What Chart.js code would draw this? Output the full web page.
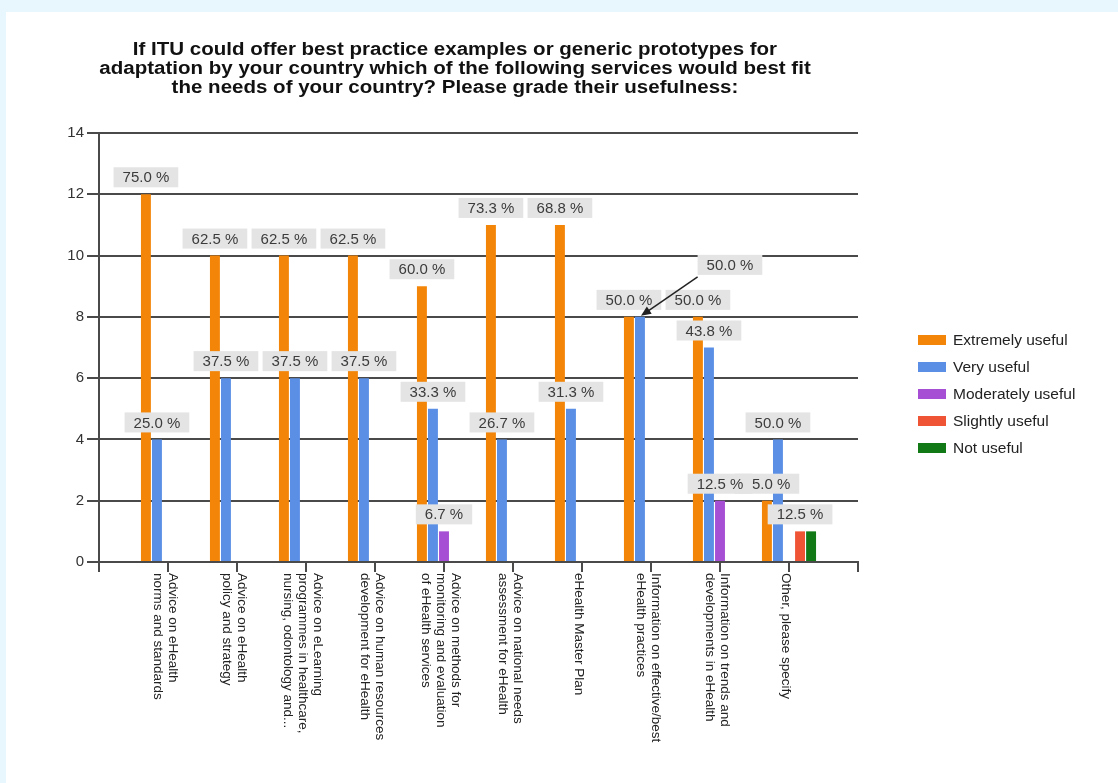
<!DOCTYPE html>
<html>
<head>
<meta charset="utf-8">
<script src="https://cdn.jsdelivr.net/npm/chart.js@4.4.0/dist/chart.umd.min.js"></script>
<style>
  body { margin: 0; background: #e8f6fd; font-family: "Liberation Sans", Arial, sans-serif; }
  #panel { position: absolute; left: 6px; top: 12px; width: 1112px; height: 771px; background: #fff; }
  #chart { position: absolute; left: 0; top: 0; }
  #title { position: absolute; left: 49px; top: 28px; width: 800px; text-align: center;
           font-weight: bold; font-size: 18px; line-height: 19px; color: #111;
           transform: scaleX(1.14); transform-origin: 400px 0; }
</style>
</head>
<body>
<div id="panel">
  <canvas id="chart" width="1112" height="771"></canvas>
  <div id="title">If ITU could offer best practice examples or generic prototypes for<br>adaptation by your country which of the following services would best fit<br>the needs of your country? Please grade their usefulness:</div>
</div>
<script>
// Categories (one entry per line of the label)
const categories = [
    ['Advice on eHealth', 'norms and standards'],
    ['Advice on eHealth', 'policy and strategy'],
    ['Advice on eLearning', 'programmes in healthcare,', 'nursing, odontology and...'],
    ['Advice on human resources', 'development for eHealth'],
    ['Advice on methods for', 'monitoring and evaluation', 'of eHealth services'],
    ['Advice on national needs', 'assessment for eHealth'],
    ['eHealth Master Plan'],
    ['Information on effective/best', 'eHealth practices'],
    ['Information on trends and', 'developments in eHealth'],
    ['Other, please specify']
];

const seriesNames = ['Extremely useful', 'Very useful', 'Moderately useful', 'Slightly useful', 'Not useful'];
const seriesColors = ['#f38609', '#5b8fe6', '#a64fd4', '#ef5435', '#117a17'];

// Counts
const extremelyUseful  = [12, 10, 10, 10, 9, 11, 11, 8, 8, 2];
const veryUseful       = [4, 6, 6, 6, 5, 4, 5, 8, 7, 4];
const moderatelyUseful = [null, null, null, null, 1, null, null, null, 2, null];
const slightlyUseful   = [null, null, null, null, null, null, null, null, null, 1];
const notUseful        = [null, null, null, null, null, null, null, null, null, 1];

// Percent labels shown above bars
const extremelyPct  = ['75.0 %', '62.5 %', '62.5 %', '62.5 %', '60.0 %', '73.3 %', '68.8 %', '50.0 %', '50.0 %', '25.0 %'];
const veryPct       = ['25.0 %', '37.5 %', '37.5 %', '37.5 %', '33.3 %', '26.7 %', '31.3 %', '50.0 %', '43.8 %', '50.0 %'];
const moderatelyPct = [null, null, null, null, '6.7 %', null, null, null, '12.5 %', null];
const slightlyPct   = [null, null, null, null, null, null, null, null, null, '12.5 %'];
const notPct        = [null, null, null, null, null, null, null, null, null, null];

const yMin = 0, yMax = 14, yStep = 2;

// label moved away from its bar, with an arrow back to it (dataset:category)
const callouts = { '1:7': { dx: 90, dy: -35 } };

// empty slot on each side so the first/last category sit one step in from the axis ends
const pad = arr => [null, ...arr, null];
const labels = ['', ...categories, ''];

const seriesData = [extremelyUseful, veryUseful, moderatelyUseful, slightlyUseful, notUseful];
const seriesPct = [extremelyPct, veryPct, moderatelyPct, slightlyPct, notPct];

const FONT = '"Liberation Sans", Arial, sans-serif';
const lineColor = '#4a4a4a';

// Percent boxes above the bars
const barLabels = {
    id: 'barLabels',
    afterDatasetsDraw(chart) {
        const ctx = chart.ctx;
        ctx.save();
        ctx.font = '15px ' + FONT;
        ctx.textAlign = 'center';
        ctx.textBaseline = 'middle';
        chart.data.datasets.forEach((ds, di) => {
            const meta = chart.getDatasetMeta(di);
            meta.data.forEach((bar, i) => {
                const text = ds.pctLabels[i];
                if (!text) return;
                const w = ctx.measureText(text).width + 18;
                const h = 20;
                let cx = bar.x;
                let cy = bar.y - 7 - h / 2;
                const co = callouts[di + ':' + (i - 1)];
                if (co) {
                    cx += co.dx;
                    cy += co.dy;
                    const sx = cx - w / 2, sy = cy + h / 2 + 2;
                    const ex = bar.x + 1, ey = bar.y - 1;
                    const ang = Math.atan2(ey - sy, ex - sx);
                    ctx.strokeStyle = '#222';
                    ctx.fillStyle = '#222';
                    ctx.lineWidth = 1.5;
                    ctx.beginPath();
                    ctx.moveTo(sx, sy);
                    ctx.lineTo(ex - 8 * Math.cos(ang), ey - 8 * Math.sin(ang));
                    ctx.stroke();
                    ctx.beginPath();
                    ctx.moveTo(ex, ey);
                    ctx.lineTo(ex - 11 * Math.cos(ang - 0.4), ey - 11 * Math.sin(ang - 0.4));
                    ctx.lineTo(ex - 11 * Math.cos(ang + 0.4), ey - 11 * Math.sin(ang + 0.4));
                    ctx.closePath();
                    ctx.fill();
                }
                ctx.fillStyle = '#e4e4e4';
                ctx.fillRect(cx - w / 2, cy - h / 2, w, h);
                ctx.fillStyle = '#3c3c3c';
                ctx.fillText(text, cx, cy + 1);
            });
        });
        ctx.restore();
    }
};

// Category labels turned clockwise under each tick
const xLabels = {
    id: 'xLabels',
    afterDraw(chart) {
        const ctx = chart.ctx;
        const xs = chart.scales.x;
        ctx.save();
        ctx.font = '13.5px ' + FONT;
        ctx.fillStyle = '#222';
        ctx.textAlign = 'left';
        ctx.textBaseline = 'middle';
        chart.data.labels.forEach((lines, i) => {
            if (!lines) return;
            const px = xs.getPixelForTick(i);
            ctx.save();
            ctx.translate(px, chart.chartArea.bottom + 11);
            ctx.rotate(Math.PI / 2);
            lines.forEach((line, k) => {
                ctx.fillText(line, 0, (k - (lines.length - 1) / 2) * 15 + 3);
            });
            ctx.restore();
        });
        ctx.restore();
    }
};

// Legend to the right of the plot
const sideLegend = {
    id: 'sideLegend',
    afterDraw(chart) {
        const ctx = chart.ctx;
        const area = chart.chartArea;
        const left = area.right + 60;
        const top = area.top + 207;
        ctx.save();
        ctx.font = '15.5px ' + FONT;
        ctx.textAlign = 'left';
        ctx.textBaseline = 'middle';
        chart.data.datasets.forEach((ds, i) => {
            const y = top + i * 27;
            ctx.fillStyle = ds.backgroundColor;
            ctx.fillRect(left, y - 5, 28, 10);
            ctx.fillStyle = '#222';
            ctx.fillText(ds.label, left + 35, y + 1);
        });
        ctx.restore();
    }
};

new Chart(document.getElementById('chart').getContext('2d'), {
    type: 'bar',
    data: {
        labels: labels,
        datasets: seriesNames.map((name, i) => ({
            label: name,
            data: pad(seriesData[i]),
            pctLabels: pad(seriesPct[i]),
            backgroundColor: seriesColors[i],
            borderWidth: 0,
            categoryPercentage: 0.8,
            barPercentage: 0.9
        }))
    },
    options: {
        responsive: false,
        animation: false,
        devicePixelRatio: 1,
        layout: { padding: { top: 121, right: 260, bottom: 0, left: 0 } },
        plugins: {
            legend: { display: false },
            tooltip: { enabled: false }
        },
        scales: {
            x: {
                type: 'category',
                offset: false,
                grid: { offset: false, drawOnChartArea: false, color: lineColor, lineWidth: 2, tickLength: 10 },
                border: { color: lineColor, width: 2 },
                ticks: { display: false, autoSkip: false },
                afterFit(scale) { scale.height = 221; }
            },
            y: {
                min: yMin,
                max: yMax,
                ticks: { stepSize: yStep, color: '#333', padding: 3, font: { size: 15, family: FONT } },
                grid: { color: lineColor, lineWidth: 2, tickLength: 12 },
                border: { color: lineColor, width: 2 },
                afterFit(scale) { scale.width = 93; }
            }
        }
    },
    plugins: [barLabels, xLabels, sideLegend]
});
</script>
</body>
</html>
